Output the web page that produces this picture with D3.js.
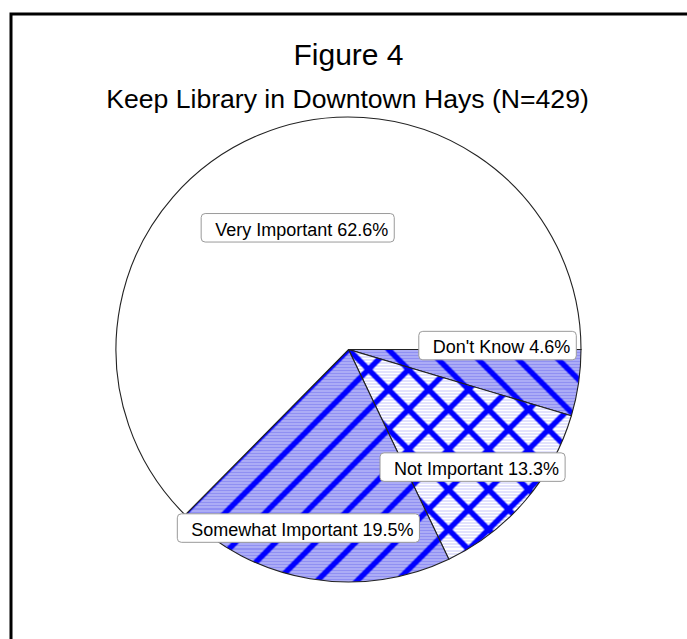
<!DOCTYPE html>
<html>
<head>
<meta charset="utf-8">
<script src="https://cdn.jsdelivr.net/npm/d3@7"></script>
<style>
  body { margin: 0; background: #fff; }
  svg { display: block; font-family: "Liberation Sans", Arial, sans-serif; }
</style>
</head>
<body>
<div id="chart"></div>
<script>
// data, in drawing order clockwise from 3 o'clock
const categories = ["Don't Know", "Not Important", "Somewhat Important", "Very Important"];
const percents = [4.6, 13.3, 19.5, 62.6];
const fills = ["url(#hatchDK)", "url(#hatchNI)", "url(#hatchSI)", "#ffffff"];

const titleText = "Figure 4";
const subtitleText = "Keep Library in Downtown Hays (N=429)";

const width = 687;
const height = 639;
const cx = 348.5, cy = 349.5;
const radius = 232.5;

// nudges for the label boxes off the arc centroid
const labelNudge = {
  "Don't Know": [11, -24],
  "Not Important": [18, 27],
  "Somewhat Important": [-27, 41],
  "Very Important": [3, 7]
};

const svg = d3.select("#chart")
  .append("svg")
  .attr("width", width)
  .attr("height", height);

// hatch patterns
const defs = svg.append("defs");

function makePattern(id, bg, stripe, dirs) {
  const p = defs.append("pattern")
    .attr("id", id)
    .attr("patternUnits", "userSpaceOnUse")
    .attr("width", 40)
    .attr("height", 40);
  p.append("rect").attr("width", 40).attr("height", 40).attr("fill", bg);
  for (let y = 1; y < 40; y += 3) {
    p.append("rect")
      .attr("x", 0).attr("y", y)
      .attr("width", 40).attr("height", 1)
      .attr("fill", stripe);
  }
  if (dirs.includes("/")) {
    p.append("path")
      .attr("d", "M-10,10L10,-10M0,40L40,0M30,50L50,30")
      .attr("stroke", "#0000ff").attr("stroke-width", 5.5).attr("fill", "none");
  }
  if (dirs.includes("\\")) {
    p.append("path")
      .attr("d", "M-10,30L10,50M0,0L40,40M30,-10L50,10")
      .attr("stroke", "#0000ff").attr("stroke-width", 5.5).attr("fill", "none");
  }
}
makePattern("hatchSI", "#9090f2", "#c8c8fa", "/");
makePattern("hatchDK", "#9090f2", "#c8c8fa", "\\");
makePattern("hatchNI", "#ffffff", "#c4c4f8", "/\\");

// frame
svg.append("rect")
  .attr("x", 11).attr("y", 14)
  .attr("width", 720).attr("height", 700)
  .attr("fill", "none")
  .attr("stroke", "#000")
  .attr("stroke-width", 3);

// titles
svg.append("text")
  .attr("x", cx).attr("y", 65)
  .attr("text-anchor", "middle")
  .style("font-size", "30px")
  .text(titleText);

svg.append("text")
  .attr("x", cx - 1).attr("y", 108)
  .attr("text-anchor", "middle")
  .style("font-size", "26.6px")
  .text(subtitleText);

const pie = d3.pie()
  .sort(null)
  .startAngle(Math.PI / 2)
  .endAngle(Math.PI / 2 + 2 * Math.PI)
  .value(d => d);

const arcs = pie(percents);
const arc = d3.arc().innerRadius(0).outerRadius(radius);
const labelArc = d3.arc().innerRadius(radius * 0.6).outerRadius(radius * 0.6);

const g = svg.append("g")
  .attr("transform", "translate(" + cx + "," + cy + ")");

g.selectAll("path.slice")
  .data(arcs)
  .enter()
  .append("path")
  .attr("class", "slice")
  .attr("d", arc)
  .attr("fill", (d, i) => fills[i])
  .attr("stroke", "#222")
  .attr("stroke-width", 1.1);

// labels with rounded boxes
const labels = g.selectAll("g.label")
  .data(arcs)
  .enter()
  .append("g")
  .attr("class", "label");

labels.each(function(d, i) {
  const el = d3.select(this);
  const c = labelArc.centroid(d);
  const nudge = labelNudge[categories[i]];
  const bx = c[0] + nudge[0], by = c[1] + nudge[1];
  const txt = el.append("text")
    .style("font-size", "18px")
    .attr("fill", "#000")
    .text(categories[i] + " " + d.data.toFixed(1) + "%");
  const tw = txt.node().getComputedTextLength();
  const padL = 14, padR = 6;
  const boxW = tw + padL + padR, boxH = 28.5;
  const x0 = bx - boxW / 2, y0 = by - boxH / 2;
  el.insert("rect", "text")
    .attr("x", x0).attr("y", y0)
    .attr("width", boxW).attr("height", boxH)
    .attr("rx", 4)
    .attr("fill", "#fff")
    .attr("stroke", "#9a9a9a")
    .attr("stroke-width", 1);
  txt.attr("x", x0 + padL).attr("y", y0 + 22);
});
</script>
</body>
</html>
